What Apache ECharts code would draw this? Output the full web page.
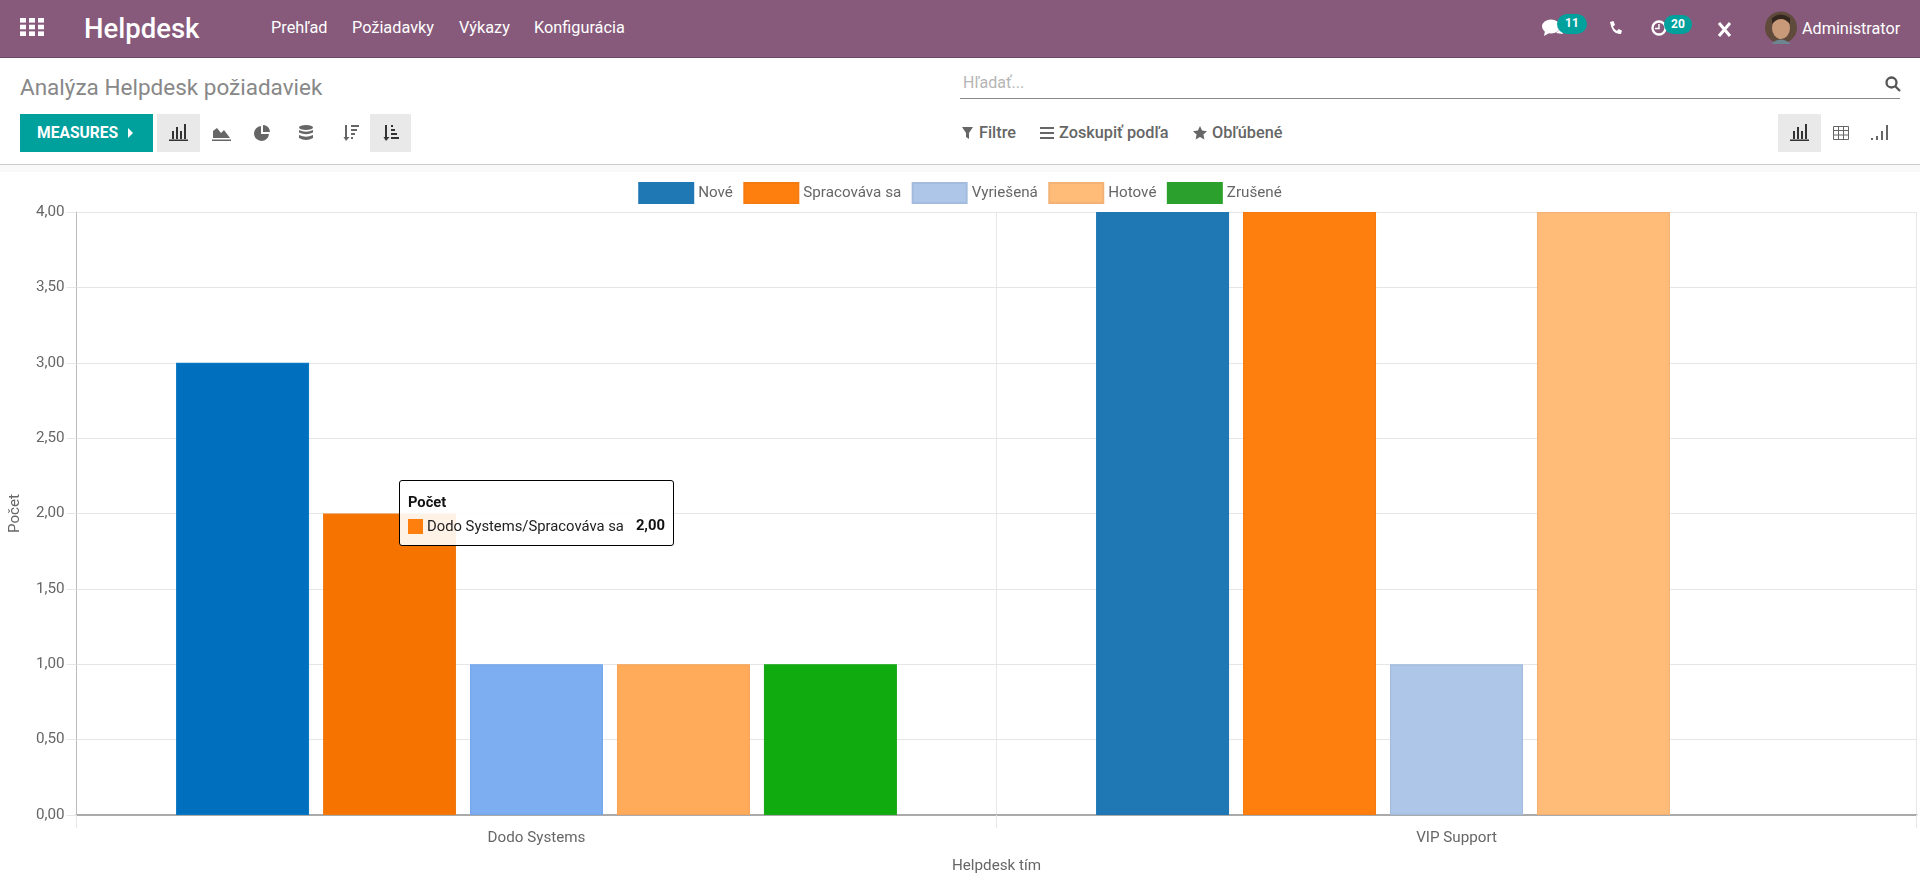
<!DOCTYPE html>
<html lang="sk">
<head>
<meta charset="utf-8">
<title>Analýza Helpdesk požiadaviek</title>
<script src="https://cdn.jsdelivr.net/npm/echarts@6/dist/echarts.min.js"></script>
<style>
html, body { margin: 0; padding: 0; width: 1920px; height: 880px; overflow: hidden; background: #fff; font-family: Roboto, sans-serif; }
.a { position: absolute; white-space: nowrap; line-height: 20px; }
.nav { position: absolute; left: 0; top: 0; width: 1920px; height: 58px; background: #875A7B; border-bottom: 1px solid #6d4863; box-sizing: border-box; }
.menu { color: #fff; font-size: 16.3px; top: 18px; }
.tool { color: #666; font-size: 16.3px; font-weight: 500; top: 123px; }
.on { position: absolute; top: 114px; height: 38px; background: #e9e9e9; }
.badge { position: absolute; height: 20px; border-radius: 10px; background: #00A09D; color: #fff; font-size: 12px; font-weight: 700; line-height: 19px; text-align: center; }
svg { position: absolute; }
#chart { position: absolute; left: 0; top: 172px; width: 1920px; height: 708px; }
</style>
</head>
<body>
<div class="nav"></div>
<svg style="left:20px;top:18px" width="24" height="18" fill="#fff"><rect width="6" height="4.6"/><rect x="9" width="6" height="4.6"/><rect x="18" width="6" height="4.6"/><rect y="6.7" width="6" height="4.6"/><rect x="9" y="6.7" width="6" height="4.6"/><rect x="18" y="6.7" width="6" height="4.6"/><rect y="13.4" width="6" height="4.6"/><rect x="9" y="13.4" width="6" height="4.6"/><rect x="18" y="13.4" width="6" height="4.6"/></svg>
<div class="a" style="left:84px;top:19px;color:#fff;font-size:27.5px;font-weight:500">Helpdesk</div>
<div class="a menu" style="left:271px">Prehľad</div>
<div class="a menu" style="left:352px">Požiadavky</div>
<div class="a menu" style="left:459px">Výkazy</div>
<div class="a menu" style="left:534px">Konfigurácia</div>
<svg style="left:1542px;top:19px" width="22" height="17" fill="#fff"><ellipse cx="9" cy="7.5" rx="9" ry="7"/><path d="M3 12 L2 17 L9 13Z"/><path d="M19 9 L21 15 L14 14Z"/></svg>
<div class="badge" style="left:1557px;top:14px;width:30px">11</div>
<svg style="left:1609px;top:21px" width="13" height="14" fill="#fff"><path d="M1 1 L4.500 0 L6 4 L4 5.500 Q5 8.500 8 10 L9.500 8 L13 9.500 L12 13 Q3 14 1 1Z"/></svg>
<svg style="left:1651px;top:20px" width="16" height="16" fill="none" stroke="#fff" stroke-width="2.300"><circle cx="8" cy="8" r="6.500"/><path d="M8 4 V8.500 H4" stroke-width="1.500"/></svg>
<div class="badge" style="left:1664px;top:15px;width:28px;height:19px">20</div>
<svg style="left:1717px;top:22px" width="15" height="15" stroke="#fff" stroke-width="3"><path d="M2 1 L13 14 M13 1 L2 14"/></svg>
<svg style="left:1765px;top:11px" width="32" height="33"><circle cx="16" cy="16.500" r="16" fill="#5f4a3c"/><ellipse cx="16" cy="17" rx="9" ry="11" fill="#c89a7a"/><path d="M7 13 Q16 3 25 13 L25 7 Q16 0 7 7Z" fill="#33271f"/><path d="M6 33 Q16 24 26 33Z" fill="#6d8590"/></svg>
<div class="a" style="left:1802px;top:19px;color:#fff;font-size:16.2px">Administrator</div>

<div class="a" style="left:20px;top:74px;color:#888;font-size:22.5px;line-height:26px">Analýza Helpdesk požiadaviek</div>
<div class="a" style="left:20px;top:114px;width:133px;height:38px;background:#00A09D"></div>
<div class="a" style="left:37px;top:123px;color:#fff;font-size:15.6px;font-weight:700">MEASURES</div>
<svg style="left:128px;top:128px" width="5" height="10" fill="#fff"><path d="M0 0 L5 5 L0 10Z"/></svg>
<div class="on" style="left:157px;width:43px"></div>
<div class="on" style="left:370px;width:41px"></div>
<svg style="left:169px;top:124px" width="19" height="17" fill="#333"><path d="M0 15.500h19v1.500H0zM3 7h2v8H3zM7 3h2v12H7zM11 7h2v8h-2zM15 0h2v15h-2z"/></svg>
<svg style="left:212px;top:125px" width="19" height="16" fill="#666"><path d="M0 14.500h19v1.500H0zM1 13V6l4-3 4 5 3-3 6 8z"/></svg>
<svg style="left:254px;top:125px" width="16" height="16" fill="#666"><path d="M7 1a7.500 7.500 0 1 0 8 8H7z"/><path d="M9 0a7 7 0 0 1 7 7H9z"/></svg>
<svg style="left:299px;top:125px" width="14" height="16" fill="#666"><ellipse cx="7" cy="2.500" rx="7" ry="2.500"/><path d="M0 5q7 3.500 14 0v2.500q-7 3.500-14 0zM0 10q7 3.500 14 0v3q-7 4-14 0z"/></svg>
<svg style="left:343px;top:125px" width="16" height="16" fill="#666"><path d="M2 0h2v12h2.500L3 16 .5 12H2zM8 0h8v2H8zM8 4h6v2H8zM8 8h4v2H8zM8 12h2v2H8z"/></svg>
<svg style="left:383px;top:125px" width="16" height="16" fill="#333"><path d="M2 0h2v12h2.500L3 16 .5 12H2zM8 0h2v2H8zM8 4h4v2H8zM8 8h6v2H8zM8 12h8v2H8z"/></svg>

<div class="a" style="left:963px;top:73px;color:#b5b5b5;font-size:16px">Hľadať...</div>
<div class="a" style="left:960px;top:98px;width:940px;height:1px;background:#888"></div>
<svg style="left:1885px;top:76px" width="16" height="16" fill="none" stroke="#555" stroke-width="2.300"><circle cx="6.500" cy="6.500" r="5"/><path d="M10 10 L15 15"/></svg>
<svg style="left:962px;top:127px" width="11" height="12" fill="#666"><path d="M0 0h11L7 6v6L4 10V6z"/></svg>
<div class="a tool" style="left:979px">Filtre</div>
<svg style="left:1040px;top:127px" width="14" height="12" fill="#666"><path d="M0 0h14v2H0zM0 5h14v2H0zM0 10h14v2H0z"/></svg>
<div class="a tool" style="left:1059px">Zoskupiť podľa</div>
<svg style="left:1193px;top:126px" width="14" height="14" fill="#666"><path d="M7 0l2.100 4.600 4.900.6-3.600 3.400 1 4.900L7 11.100 2.600 13.500l1-4.900L0 5.200l4.900-.6z"/></svg>
<div class="a tool" style="left:1212px">Obľúbené</div>
<div class="on" style="left:1778px;width:43px"></div>
<svg style="left:1790px;top:124px" width="19" height="17" fill="#333"><path d="M0 15.500h19v1.500H0zM3 7h2v8H3zM7 3h2v12H7zM11 7h2v8h-2zM15 0h2v15h-2z"/></svg>
<svg style="left:1833px;top:126px" width="16" height="14" fill="none" stroke="#666"><path d="M.5.500h15v13H.5zM.5 4.500h15M.5 9h15M5.500.500v13M10.500.500v13"/></svg>
<svg style="left:1871px;top:125px" width="17" height="16" fill="#666"><path d="M0 13h2v2H0zM5 11h2v4H5zM10 6h2v9h-2zM15 0h2v15h-2z"/></svg>

<div class="a" style="left:0;top:164px;width:1920px;height:1px;background:#ccc"></div>
<div class="a" style="left:0;top:165px;width:1920px;height:7px;background:#f9f9f9"></div>
<div id="chart"></div>

<script>
var categories = ["Dodo Systems", "VIP Support"];
var seriesNames = ["Nové", "Spracováva sa", "Vyriešená", "Hotové", "Zrušené"];
var valuesNove = [3, 4];
var valuesSpracovava = [2, 4];
var valuesVyriesena = [1, 1];
var valuesHotove = [1, 4];
var valuesZrusene = [1, 0];
var yTicks = { min: 0, max: 4, interval: 0.5 };

// zakladne farby a farby zvyraznenej skupiny (Dodo Systems)
var colors = ["#1F77B4", "#FF7F0E", "#AEC7E8", "#FFBB78", "#2CA02C"];
var borders = ["#1F77B4", "#F57B10", "#A3BCDD", "#F2B275", "#2CA02C"];
var hoverColors = ["#006FBE", "#F67300", "#7EAEF2", "#FFAB5A", "#0FAB0F"];
var hoverBorders = ["#0A78C2", "#F07A12", "#74A6EA", "#F5A45A", "#18A818"];

var fontFamily = "Roboto, sans-serif";
var textColor = "#666";
var labelSize = 15.2;
var allValues = [valuesNove, valuesSpracovava, valuesVyriesena, valuesHotove, valuesZrusene];

function fmt(v) {
	return v.toFixed(2).replace(".", ",");
}

var series = [];
for (var i = 0; i < seriesNames.length; i++) {
	var data = [];
	for (var j = 0; j < categories.length; j++) {
		var v = allValues[i][j];
		data.push({
			value: v,
			itemStyle: {
				color: j == 0 ? hoverColors[i] : colors[i],
				borderColor: j == 0 ? hoverBorders[i] : borders[i],
				borderWidth: v == 0 ? 0 : 1.2
			}
		});
	}
	series.push({
		name: seriesNames[i],
		type: "bar",
		barWidth: 133,
		barGap: "10.5%",
		itemStyle: { color: colors[i], borderColor: borders[i], borderWidth: 1 },
		emphasis: { disabled: true },
		data: data
	});
}

var myChart = echarts.init(document.getElementById("chart"));
var option = {
	animation: false,
	backgroundColor: "#fff",
	textStyle: { fontFamily: fontFamily },
	legend: {
		top: 5,
		left: "center",
		icon: "rect",
		itemWidth: 54,
		itemHeight: 20,
		itemGap: 10.4,
		selectedMode: false,
		textStyle: { color: textColor, fontSize: labelSize, fontFamily: fontFamily, padding: [0, 0, 0, 0] },
		data: seriesNames
	},
	grid: { left: 76.5, right: 3.5, top: 40, bottom: 65, containLabel: false, outerBoundsMode: "none" },
	xAxis: {
		type: "category",
		data: categories,
		name: "Helpdesk tím",
		nameLocation: "middle",
		nameGap: 44,
		nameTextStyle: { color: textColor, fontSize: labelSize, fontFamily: fontFamily },
		axisLine: { show: true, onZero: true, lineStyle: { color: "#aaa", width: 2 } },
		axisTick: { show: true, length: 13, alignWithLabel: false, lineStyle: { color: "#e8e8e8" } },
		axisLabel: { color: textColor, fontSize: labelSize, fontFamily: fontFamily, margin: 16 },
		splitLine: { show: true, lineStyle: { color: "#e8e8e8", width: 1 } }
	},
	yAxis: {
		type: "value",
		min: yTicks.min,
		max: yTicks.max,
		interval: yTicks.interval,
		name: "Počet",
		nameLocation: "middle",
		nameGap: 54,
		nameTextStyle: { color: textColor, fontSize: labelSize, fontFamily: fontFamily },
		axisLine: { show: true, lineStyle: { color: "#bbb", width: 1 } },
		axisTick: { show: true, length: 10, lineStyle: { color: "#e6e6e6" } },
		axisLabel: { color: textColor, fontSize: labelSize, fontFamily: fontFamily, margin: 12, formatter: fmt },
		splitLine: { show: true, lineStyle: { color: "#e6e6e6", width: 1.2 } }
	},
	tooltip: {
		trigger: "item",
		alwaysShowContent: true,
		showDelay: 0,
		transitionDuration: 0,
		position: [399, 308],
		padding: 0,
		borderWidth: 1,
		borderColor: "#000",
		backgroundColor: "rgba(255,255,255,0.9)",
		extraCssText: "border-radius:3px;box-shadow:none;width:275px;height:66px;box-sizing:border-box;",
		formatter: function (p) {
			return '<div style="font:700 14.7px/18px Roboto,sans-serif;color:#111;padding:12px 8px 0 8px">Počet</div>' +
				'<div style="font:14.8px/18px Roboto,sans-serif;color:#222;padding:6px 8px 0 8px;white-space:nowrap;position:relative;">' +
				'<span style="display:inline-block;width:15px;height:15px;background:' + colors[p.seriesIndex] + ';vertical-align:-3px;margin-right:4px"></span>' +
				p.name + "/" + p.seriesName +
				'<b style="position:absolute;right:8px;top:5px;color:#111">' + fmt(p.value) + "</b></div>";
		}
	},
	series: series
};
myChart.setOption(option);
// tooltip je na obrazku otvoreny nad Dodo Systems/Spracovava sa
myChart.dispatchAction({ type: "showTip", seriesIndex: 1, dataIndex: 0 });
</script>
</body>
</html>
